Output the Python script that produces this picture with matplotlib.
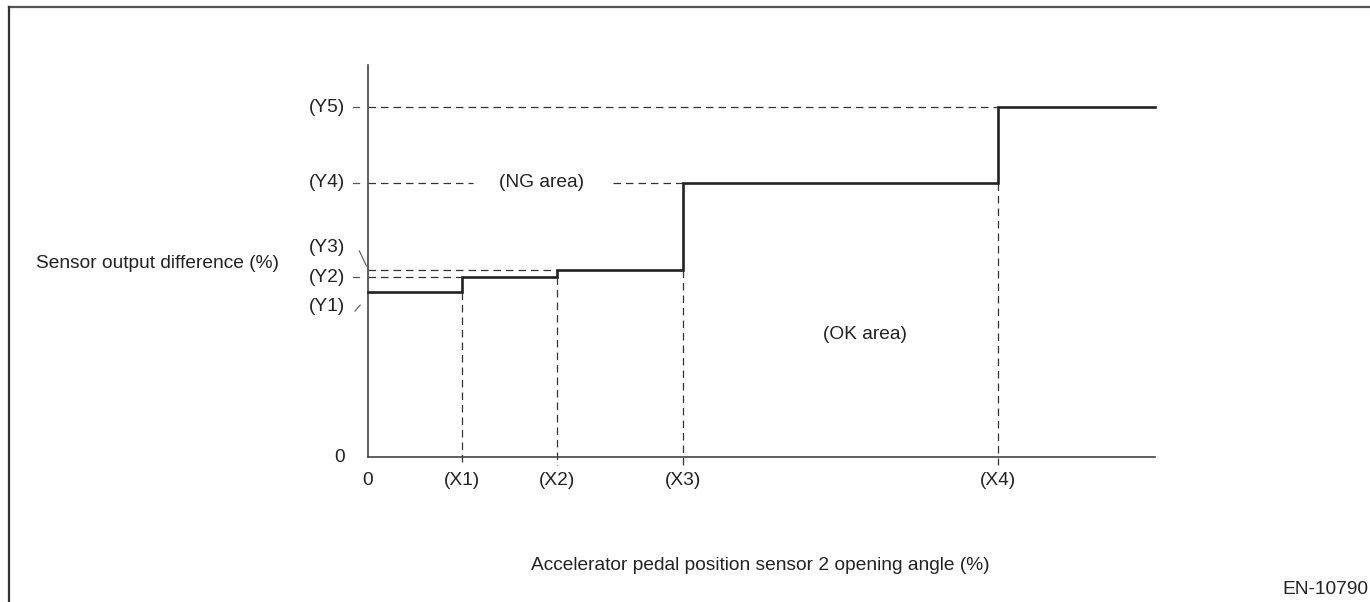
import matplotlib
matplotlib.use("Agg")
import matplotlib.pyplot as plt
from matplotlib.lines import Line2D

plt.rcParams['font.family'] = ['Liberation Sans', 'DejaVu Sans']

#Chart values (axis units: x 0..100, y 0..112)
x_edges = [0, 12, 24, 40, 80, 100]
step_levels = [47.1, 51.4, 53.4, 78.3, 100]
x_names = ["(X1)", "(X2)", "(X3)", "(X4)"]
y_names = ["(Y1)", "(Y2)", "(Y3)", "(Y4)", "(Y5)"]
y_label_pos = [42.9, 51.4, 60.0, 78.3, 100]

ink = "#222222"
dash = (0, (6, 4))
fs = 13.8

fig = plt.figure(figsize=(13.7, 6.02), dpi=100)
ax = fig.add_axes([368/1370, 145/602, 787/1370, 392/602])
ax.set_xlim(0, 100)
ax.set_ylim(0, 112)
for s in ["top", "right"]:
    ax.spines[s].set_visible(False)
for s in ["left", "bottom"]:
    ax.spines[s].set_color("#444444")
    ax.spines[s].set_linewidth(1.2)
ax.set_xticks([])
ax.set_yticks([])
ax.patch.set_alpha(0)

#Step line
xs = []
ys = []
for i, lvl in enumerate(step_levels):
    xs += [x_edges[i], x_edges[i + 1]]
    ys += [lvl, lvl]
ax.plot(xs, ys, color=ink, lw=1.9, solid_joinstyle="miter", clip_on=False, zorder=3)

#Dashed guides
kw = dict(color="#333333", lw=0.9, linestyle=dash, clip_on=False, zorder=2)
ax.plot([0, x_edges[1]], [step_levels[1]] * 2, **kw)
ax.plot([0, x_edges[2]], [step_levels[2]] * 2, **kw)
ax.plot([0, 13.3], [step_levels[3]] * 2, **kw)
ax.plot([31.1, x_edges[3]], [step_levels[3]] * 2, **kw)
ax.plot([0, x_edges[4]], [step_levels[4]] * 2, **kw)
for i in range(4):
    ax.plot([x_edges[i + 1]] * 2, [step_levels[i], -2.3], **kw)

#Y names and little leaders
tk = dict(fontsize=fs, color=ink, va="center", clip_on=False)
for name, yp in zip(y_names, y_label_pos):
    ax.text(-2.9, yp, name, ha="right", **tk)
for lvl in [step_levels[1], step_levels[3], step_levels[4]]:
    ax.plot([-1.9, -1.1], [lvl, lvl], color="#555555", lw=0.9, clip_on=False)
ax.plot([-1.1, -0.2], [58.9, 54.6], color="#555555", lw=0.8, clip_on=False)
ax.plot([-1.65, -1.0], [41.7, 43.4], color="#555555", lw=0.8, clip_on=False)
ax.text(-2.9, 0, "0", ha="right", **tk)

#X names
ax.text(0, -6.6, "0", ha="center", **tk)
for name, xp in zip(x_names, x_edges[1:5]):
    ax.text(xp, -6.6, name, ha="center", **tk)

#Area labels
ax.text(22, step_levels[3], "(NG area)", ha="center", **tk)
ax.text(63.2, 35, "(OK area)", ha="center", **tk)

#Axis titles
ax.text(-42.2, 55.4, "Sensor output difference (%)", ha="left", **tk)
ax.text(49.8, -30.9, "Accelerator pedal position sensor 2 opening angle (%)", ha="center", **tk)

#Frame and figure id
fig.add_artist(Line2D([9/1370, 1], [1 - 7/602] * 2, color="#555555", lw=1.6))
fig.add_artist(Line2D([9/1370] * 2, [0, 1 - 7/602], color="#333333", lw=1.6))
fig.text(1368/1370, 12/602, "EN-10790", ha="right", va="center", fontsize=fs, color=ink)

fig.savefig("out.png", dpi=100)
